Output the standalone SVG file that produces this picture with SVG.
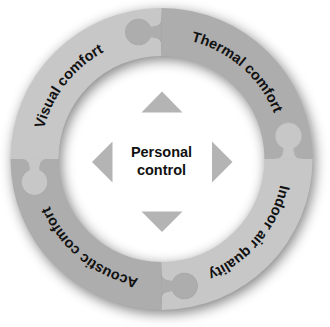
<svg xmlns="http://www.w3.org/2000/svg" xmlns:xlink="http://www.w3.org/1999/xlink" width="330" height="327" viewBox="0 0 330 327">
  <defs>
    <style>
      .light { fill: #c7c7c7; }
      .dark { fill: #adadad; }
      .piece { fill-rule: evenodd; }
      .tab-light { fill: #c7c7c7; stroke: #c7c7c7; stroke-width: 0.6; }
      .tab-dark { fill: #adadad; stroke: #adadad; stroke-width: 0.6; }
      .ring-label { font-family: "Liberation Sans", Arial, sans-serif; font-weight: bold; font-size: 14.5px; fill: #111; }
      .hub-label { font-family: "Liberation Sans", Arial, sans-serif; font-weight: bold; font-size: 14.5px; fill: #111; text-anchor: middle; }
      .arrow { fill: #b4b4b4; }
    </style>
    <filter id="soft" x="-20%" y="-20%" width="140%" height="140%">
      <feGaussianBlur stdDeviation="6.5"/>
    </filter>
    <!-- clockwise circle through the middle of the ring; its halfway point is on the right -->
    <path id="label-track" d="M40,159 A121.5,121.5 0 1 1 283,159 A121.5,121.5 0 1 1 40,159"/>
  </defs>

  <rect width="330" height="327" fill="#ffffff"/>

  <!-- soft shadow under the whole ring -->
  <g id="ring-shadow">
    <circle cx="164" cy="162.5" r="127" fill="none" stroke="#000" stroke-width="48" opacity="0.5" filter="url(#soft)"/>
  </g>

  <!-- four puzzle pieces; each cuts out the tab of the piece next to it -->
  <g id="visual-comfort">
    <path class="piece light" d="M10.5,159 A151,151 0 0 1 161.5,8 L161.5,56 A103,103 0 0 0 58.5,159 Z
      M161.5,19 C161.5,25 157.5,27 150.5,27 A13,13 0 1 0 150.5,37 C157.5,37 161.5,39 161.5,45 Z"/>
    <path class="tab-light" d="M21.5,159 C27.5,159 29.5,163 29.5,170 A13,13 0 1 0 39.5,170 C39.5,163 41.5,159 47.5,159 Z"/>
    <text class="ring-label" transform="rotate(218 161.5 159)"><textPath xlink:href="#label-track" href="#label-track" startOffset="50%" text-anchor="middle">Visual comfort</textPath></text>
  </g>

  <g id="thermal-comfort">
    <path class="piece dark" d="M161.5,8 A151,151 0 0 1 312.5,159 L264.5,159 A103,103 0 0 0 161.5,56 Z
      M301.5,159 C295.5,159 293.5,155 293.5,148 A13,13 0 1 0 283.5,148 C283.5,155 281.5,159 275.5,159 Z"/>
    <path class="tab-dark" d="M161.5,19 C161.5,25 157.5,27 150.5,27 A13,13 0 1 0 150.5,37 C157.5,37 161.5,39 161.5,45 Z"/>
    <text class="ring-label" transform="rotate(311 161.5 159)"><textPath xlink:href="#label-track" href="#label-track" startOffset="50%" text-anchor="middle">Thermal comfort</textPath></text>
  </g>

  <g id="indoor-air-quality">
    <path class="piece light" d="M312.5,159 A151,151 0 0 1 161.5,310 L161.5,262 A103,103 0 0 0 264.5,159 Z
      M161.5,299 C161.5,293 165.5,291 172.5,291 A13,13 0 1 0 172.5,281 C165.5,281 161.5,279 161.5,273 Z"/>
    <path class="tab-light" d="M301.5,159 C295.5,159 293.5,155 293.5,148 A13,13 0 1 0 283.5,148 C283.5,155 281.5,159 275.5,159 Z"/>
    <text class="ring-label" transform="rotate(40 161.5 159)"><textPath xlink:href="#label-track" href="#label-track" startOffset="50%" text-anchor="middle">Indoor air quality</textPath></text>
  </g>

  <g id="acoustic-comfort">
    <path class="piece dark" d="M161.5,310 A151,151 0 0 1 10.5,159 L58.5,159 A103,103 0 0 0 161.5,262 Z
      M21.5,159 C27.5,159 29.5,163 29.5,170 A13,13 0 1 0 39.5,170 C39.5,163 41.5,159 47.5,159 Z"/>
    <path class="tab-dark" d="M161.5,299 C161.5,293 165.5,291 172.5,291 A13,13 0 1 0 172.5,281 C165.5,281 161.5,279 161.5,273 Z"/>
    <text class="ring-label" transform="rotate(129 161.5 159)"><textPath xlink:href="#label-track" href="#label-track" startOffset="50%" text-anchor="middle">Acoustic comfort</textPath></text>
  </g>

  <!-- centre: label with four direction arrows -->
  <g id="personal-control">
    <polygon class="arrow" points="162,91.5 182.5,112.5 141.5,112.5"/>
    <polygon class="arrow" points="162,232 182.5,211.5 141.5,211.5"/>
    <polygon class="arrow" points="92,162 112.5,141.5 112.5,182.5"/>
    <polygon class="arrow" points="232.5,162 212,141.5 212,182.5"/>
    <text class="hub-label" x="161.5" y="157.3">Personal</text>
    <text class="hub-label" x="161.5" y="175">control</text>
  </g>
</svg>
